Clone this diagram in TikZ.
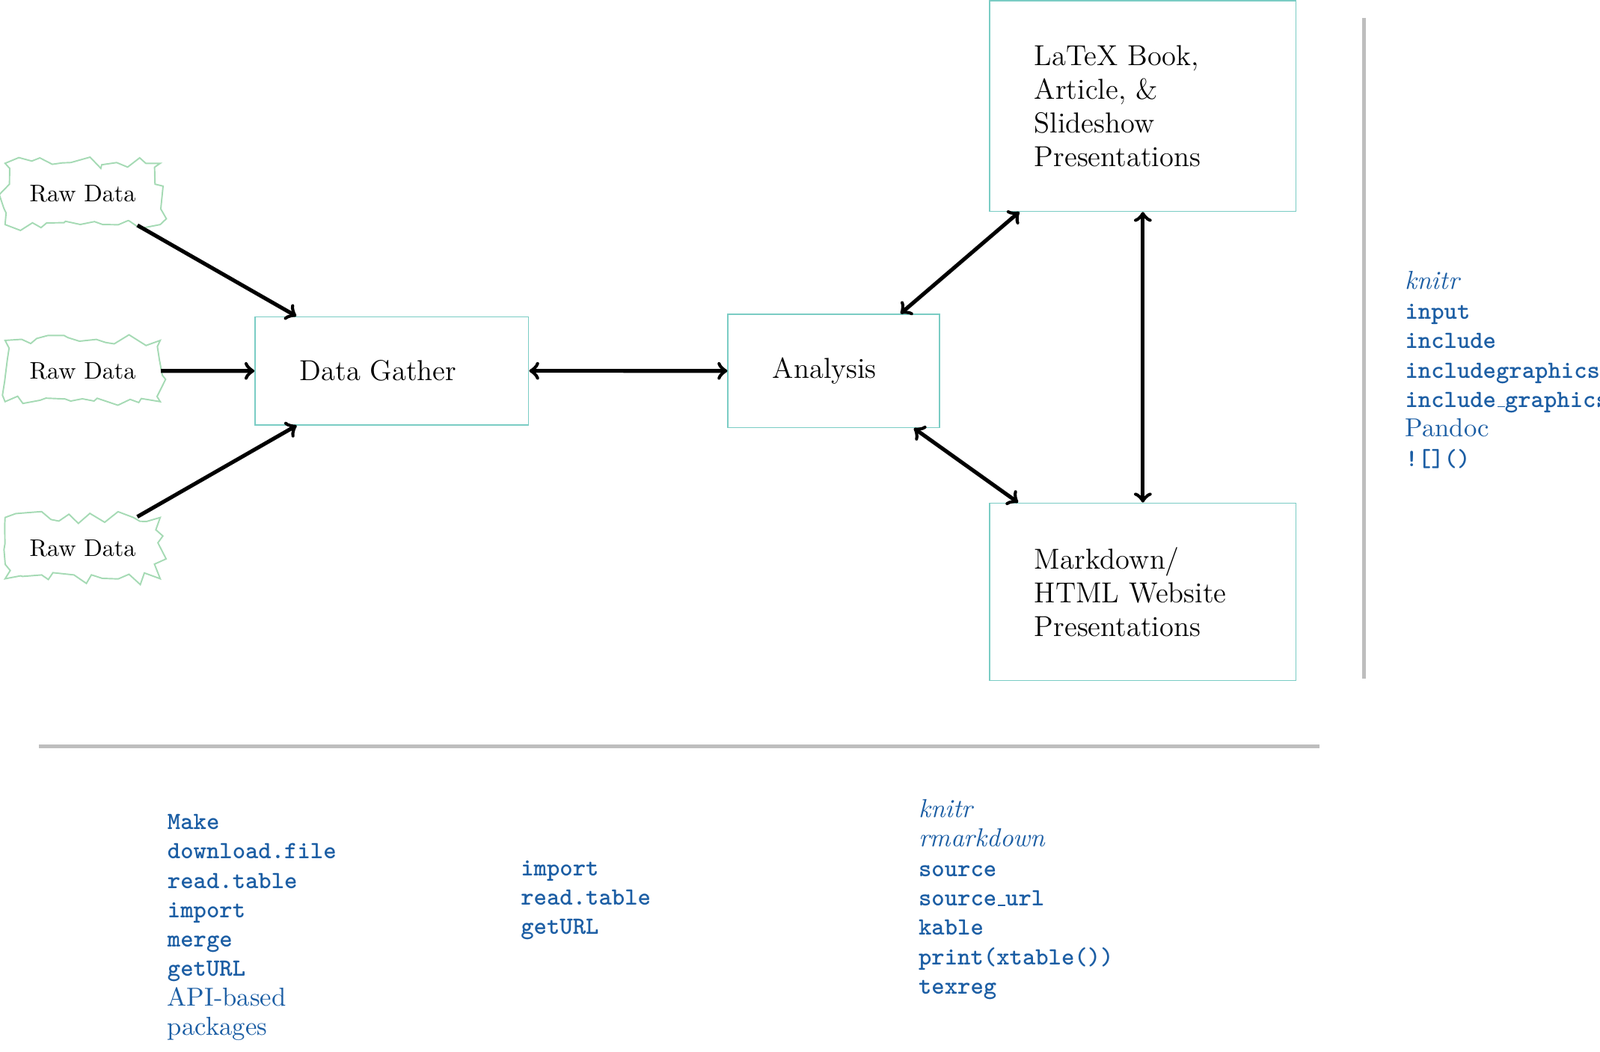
\documentclass[tikz,border=0pt]{standalone}
\usetikzlibrary{decorations.pathmorphing}
\definecolor{boxteal}{RGB}{122,204,196}
\definecolor{rawgreen}{RGB}{165,218,180}
\definecolor{codeblue}{RGB}{28,94,164}
\definecolor{sepgrey}{RGB}{190,190,190}
\newcommand{\myTT}[1]{{\fontsize{10.3}{12.2}\selectfont\ttfamily\bfseries #1}}
\newcommand{\myRM}[1]{{\fontsize{10.8}{12.2}\selectfont #1}}
\newcommand{\myIT}[1]{{\fontsize{10.8}{12.2}\selectfont\itshape #1}}
\newcommand{\myUS}{\leavevmode\kern.06em\vbox{\hrule width.3em}}
\begin{document}
\begin{tikzpicture}[x=0.4249pt, y=-0.4249pt,
  rawbox/.style={draw=rawgreen, line width=0.6pt, decorate,
    decoration={random steps, segment length=4.5pt, amplitude=2.6pt},
    minimum width=64.6pt, minimum height=25.5pt, inner sep=0pt, font=\normalsize},
  stage/.style={draw=boxteal, line width=0.5pt, inner sep=0pt, align=left, font=\large},
  arr/.style={line width=1.6pt, ->},
  darr/.style={line width=1.6pt, <->},
  sepline/.style={draw=sepgrey, line width=1.4pt},
  codetxt/.style={anchor=base west, inner sep=0pt, text=codeblue}]
\useasboundingbox (0,0) rectangle (1568,1030);

% raw data sources
\node[rawbox] (raw1) at (81,190) {Raw Data};
\node[rawbox] (raw2) at (81,363.5) {Raw Data};
\node[rawbox] (raw3) at (81,537) {Raw Data};

% stages
\node[stage, minimum width=113.9pt, minimum height=45pt, text width=76.7pt] (dg) at (384,363.3) {Data Gather};
\node[stage, minimum width=88.1pt, minimum height=47.2pt, text width=50.9pt] (an) at (817.1,363.4) {Analysis};
\node[stage, minimum width=127.5pt, minimum height=87.7pt, text width=90.3pt] (tex) at (1120,103.8) {LaTeX Book,\\ Article, \&\\ Slideshow\\ Presentations};
\node[stage, minimum width=127.5pt, minimum height=73.8pt, text width=90.3pt] (md) at (1120,579.8) {Markdown/\\ HTML Website\\ Presentations};

% connectors
\draw[arr] (raw1) -- (dg);
\draw[arr] (raw2) -- (dg);
\draw[arr] (raw3) -- (dg);
\draw[darr] (dg) -- (an);
\draw[darr] (an) -- (tex);
\draw[darr] (an) -- (md);
\draw[darr] (tex) -- (md);

% separators
\coordinate (vtop) at (1336.6,17.8);
\coordinate (vbot) at (1336.6,665);
\coordinate (hleft) at (38,731.2);
\coordinate (hright) at (1293,731.2);
\draw[sepline] (vtop) -- (vbot);
\draw[sepline] (hleft) -- (hright);

% right column
\foreach \t [count=\i from 0] in {{\myIT{knitr}},{\myTT{input}},{\myTT{include}},{\myTT{includegraphics}},{\myTT{include\myUS graphics}},{\myRM{Pandoc}},{\myTT{![]()}}}
  \node[codetxt] (rc\i) at (1376.6,283.5+28.9*\i) {\t};

% bottom column 1
\foreach \t [count=\i from 0] in {{\myTT{Make}},{\myTT{download.file}},{\myTT{read.table}},{\myTT{import}},{\myTT{merge}},{\myTT{getURL}},{\myRM{API-based}},{\myRM{packages}}}
  \node[codetxt] (ca\i) at (163.7,812.6+28.8*\i) {\t};

% bottom column 2
\foreach \t [count=\i from 0] in {{\myTT{import}},{\myTT{read.table}},{\myTT{getURL}}}
  \node[codetxt] (cb\i) at (510,858.3+28.6*\i) {\t};

% bottom column 3
\foreach \t [count=\i from 0] in {{\myIT{knitr}},{\myIT{rmarkdown}},{\myTT{source}},{\myTT{source\myUS url}},{\myTT{kable}},{\myTT{print(xtable())}},{\myTT{texreg}}}
  \node[codetxt] (cc\i) at (899.8,801+28.8*\i) {\t};
\end{tikzpicture}
\end{document}
